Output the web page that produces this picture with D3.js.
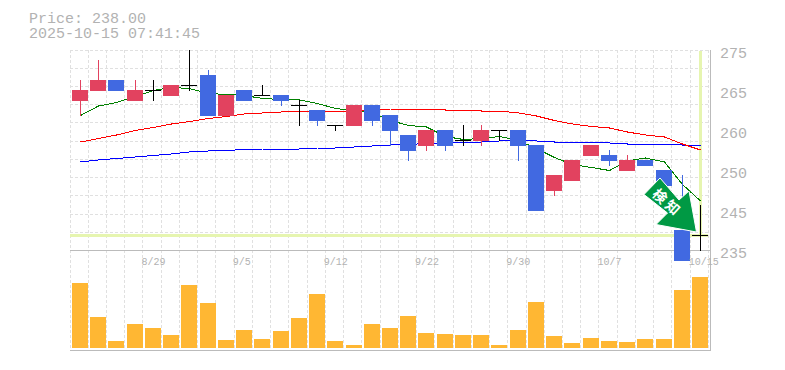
<!DOCTYPE html>
<html>
<head>
<meta charset="utf-8">
<script src="https://cdn.jsdelivr.net/npm/d3@7"></script>
<style>
  html, body { margin: 0; background: #fff; }
  svg { display: block; }
  text { font-family: "Liberation Mono", monospace; fill: #b2b2b2; }
</style>
</head>
<body>
<div id="chart"></div>
<script>
const lastPrice = 238;
const priceTitle = "Price: 238.00";
const timeTitle = "2025-10-15 07:41:45";

const opens  = [265,267,269,265,267,266,268,270,262,267,266,266,264,263,260,260,264,262,258,256,259,257,257,259,259,256,247,249,254,254,251,253,251,239,238];
const highs  = [269,273,269,269,269,268,275,271,266,267,268,266,265,263,260,264,264,262,258,259,259,260,260,259,259,256,250,253,256,255,254,253,251,250,244];
const lows   = [262,267,267,265,265,266,267,262,262,265,266,264,260,260,259,260,260,256,253,255,255,256,256,257,253,243,246,249,254,252,251,252,248,233,235];
const closes = [267,269,267,267,267,268,268,262,266,265,266,265,264,261,260,264,261,259,255,259,256,257,259,259,256,243,250,253,256,253,253,252,248,233,238];
const volumes = [65,31,7,24,20,13,63,45,8,18,9,17,30,54,7,3,24,20,32,15,14,13,13,3,18,46,12,5,10,7,6,9,9,58,71];

const maShort = [262,263.9,264.6,265.8,267,267.6,267.4,266.4,266.2,266,265.4,265.2,265.1,264.4,263.4,263,262.6,261,260,259.7,257.8,257.2,257.4,257.8,257,255.4,253.6,252.2,251.6,251,252.9,253.5,252.7,248.2,244.9];
const maMiddle = [256.7,257.4,258.1,259,259.6,260.3,260.8,261.4,261.8,262.3,262.5,262.7,262.9,262.9,262.7,262.9,263.1,263.3,263.3,263.3,263.1,263.1,262.9,262.9,262.5,261.9,261,260.3,259.8,259.5,258.7,258.1,257.7,256.3,255.1];
const maLong = [252.7,253.1,253.4,253.7,254,254.3,254.7,254.9,255,255.2,255.3,255.3,255.3,255.5,255.5,255.7,255.9,256.1,256.2,256.4,256.5,256.6,256.7,256.9,257,256.9,256.7,256.7,256.7,256.5,256.3,256.3,256.3,256.1,256.1];

const priceTicks = [275,267,259,251,243,235];
const priceTickLabels = ["275","265","260","250","245","235"];
const dateTicks = [4,9,14,19,24,29,34];
const dateLabels = ["8/29","9/5","9/12","9/22","9/30","10/7","10/15"];

const colorUp = "#e2425f";
const colorDown = "#4169e1";
const colorDoji = "#000";
const colorVolume = "#ffb733";
const colorGrid = "#e0e0e0";
const colorFrame = "#bbb";
const colorLast = "#e6f5b0";

const width = 785, height = 370;
const left = 70, top_pos = 50, priceBottom = 250, volBottom = 348, right = 710;
const barW = 16;

const svg = d3.select("#chart").append("svg")
  .attr("width", width).attr("height", height);

// スケール
const x = d3.scaleLinear().domain([0, 35]).range([left, left + 18.24 * 35]);
const y = d3.scaleLinear().domain([235, 275]).range([priceBottom, top_pos]);
const yVol = d3.scaleLinear().domain([0, 100]).range([volBottom, volBottom - 100]);
const yGrid = d3.scaleLinear().domain([0, 11]).range([top_pos, 250.5]);

const barLeft = i => Math.round(x(i) + 2 - i * 0.005);
const mid = i => barLeft(i) + 8.5;

// グリッド
const grid = svg.append("g").attr("shape-rendering", "crispEdges")
  .attr("stroke", colorGrid).attr("stroke-dasharray", "3,2");
grid.selectAll(".v").data(d3.range(0, 36)).join("line")
  .attr("x1", i => Math.floor(x(i)) + 0.5).attr("x2", i => Math.floor(x(i)) + 0.5)
  .attr("y1", top_pos).attr("y2", volBottom + 2);
grid.selectAll(".h").data(d3.range(0, 11)).join("line")
  .attr("x1", left).attr("x2", right)
  .attr("y1", i => Math.floor(yGrid(i)) + 0.5).attr("y2", i => Math.floor(yGrid(i)) + 0.5);

// 枠線
const frame = svg.append("g").attr("shape-rendering", "crispEdges").attr("stroke", colorFrame);
frame.append("line").attr("x1", left).attr("x2", right + 0.5).attr("y1", priceBottom + 0.5).attr("y2", priceBottom + 0.5);
frame.append("line").attr("x1", left).attr("x2", right + 0.5).attr("y1", volBottom + 2.5).attr("y2", volBottom + 2.5);
frame.append("line").attr("x1", right + 0.5).attr("x2", right + 0.5).attr("y1", top_pos).attr("y2", volBottom + 3);

// 現在値のライン
svg.append("line").attr("shape-rendering", "crispEdges")
  .attr("x1", left).attr("x2", x(35))
  .attr("y1", y(lastPrice) + 0.5).attr("y2", y(lastPrice) + 0.5)
  .attr("stroke", colorLast).attr("stroke-width", 3);
svg.append("line").attr("shape-rendering", "crispEdges")
  .attr("x1", mid(34)).attr("x2", mid(34))
  .attr("y1", top_pos + 1).attr("y2", y(lastPrice))
  .attr("stroke", colorLast).attr("stroke-width", 3);

// 出来高
svg.append("g").attr("shape-rendering", "crispEdges")
  .selectAll("rect").data(volumes).join("rect")
  .attr("x", (d, i) => barLeft(i)).attr("width", barW)
  .attr("y", d => yVol(d)).attr("height", d => yVol(0) - yVol(d))
  .attr("fill", colorVolume);

// 移動平均線
const line = d3.line().x((d, i) => mid(i)).y(d => y(d) + 0.5);
[[maLong, "#0000ff"], [maMiddle, "#ff0000"], [maShort, "#008000"]].forEach(([data, color]) => {
  svg.append("path").datum(data)
    .attr("fill", "none").attr("stroke", color).attr("stroke-width", 1)
    .attr("shape-rendering", "crispEdges")
    .attr("d", line);
});

// ローソク足
const candleColor = i => closes[i] > opens[i] ? colorUp : closes[i] < opens[i] ? colorDown : colorDoji;
const candles = svg.append("g").attr("shape-rendering", "crispEdges");
candles.selectAll(".wick").data(d3.range(closes.length)).join("line")
  .attr("x1", i => mid(i)).attr("x2", i => mid(i))
  .attr("y1", i => y(highs[i])).attr("y2", i => y(lows[i]) + 1)
  .attr("stroke", candleColor);
candles.selectAll(".body").data(d3.range(closes.length)).join("rect")
  .attr("x", i => barLeft(i)).attr("width", barW)
  .attr("y", i => y(Math.max(opens[i], closes[i])))
  .attr("height", i => Math.abs(y(opens[i]) - y(closes[i])) + 1)
  .attr("fill", candleColor);

// 検知の矢印
const arrow = svg.append("g")
  .attr("transform", `translate(${mid(34) - 5},${y(lastPrice) - 4})`);
arrow.append("path")
  .attr("d", "M-51.5,-36.5 L-35.5,-53 L-16.5,-31 L-6.5,-40 L1,1 L-39.5,-6.5 L-28,-18 Z")
  .attr("fill", "#009944").attr("stroke", "#fff").attr("stroke-width", 1)
  .attr("stroke-linejoin", "miter");
arrow.append("text")
  .attr("transform", "translate(-28.2,-28.2) rotate(42)")
  .attr("text-anchor", "middle").attr("dy", "0.36em")
  .attr("letter-spacing", 3)
  .style("font-family", "'Noto Sans CJK JP'").style("font-weight", 700)
  .style("font-size", "14px").style("fill", "#fff")
  .text("検知");

// 軸
const yAxis = d3.axisRight(y).tickValues(priceTicks).tickSize(0).tickPadding(0)
  .tickFormat((d, i) => priceTickLabels[i]);
const yG = svg.append("g").attr("transform", `translate(720,0)`).call(yAxis);
yG.select(".domain").remove();
yG.selectAll("text").attr("x", 0).attr("dy", 7).style("font-size", "15px").style("font-family", "'Liberation Mono', monospace");

const xAxis = d3.axisBottom(x).tickValues(dateTicks).tickSize(0).tickPadding(0)
  .tickFormat((d, i) => dateLabels[i]);
const xG = svg.append("g").attr("transform", `translate(0,265)`).call(xAxis);
xG.select(".domain").remove();
xG.selectAll("text").attr("y", 0).attr("dy", 0).attr("x", -2)
  .attr("text-anchor", "start").style("font-size", "10px").style("font-family", "'Liberation Mono', monospace");

// タイトル
svg.append("text").attr("x", 29).attr("y", 23).style("font-size", "15px").text(priceTitle);
svg.append("text").attr("x", 29).attr("y", 38).style("font-size", "15px").text(timeTitle);
</script>
</body>
</html>
